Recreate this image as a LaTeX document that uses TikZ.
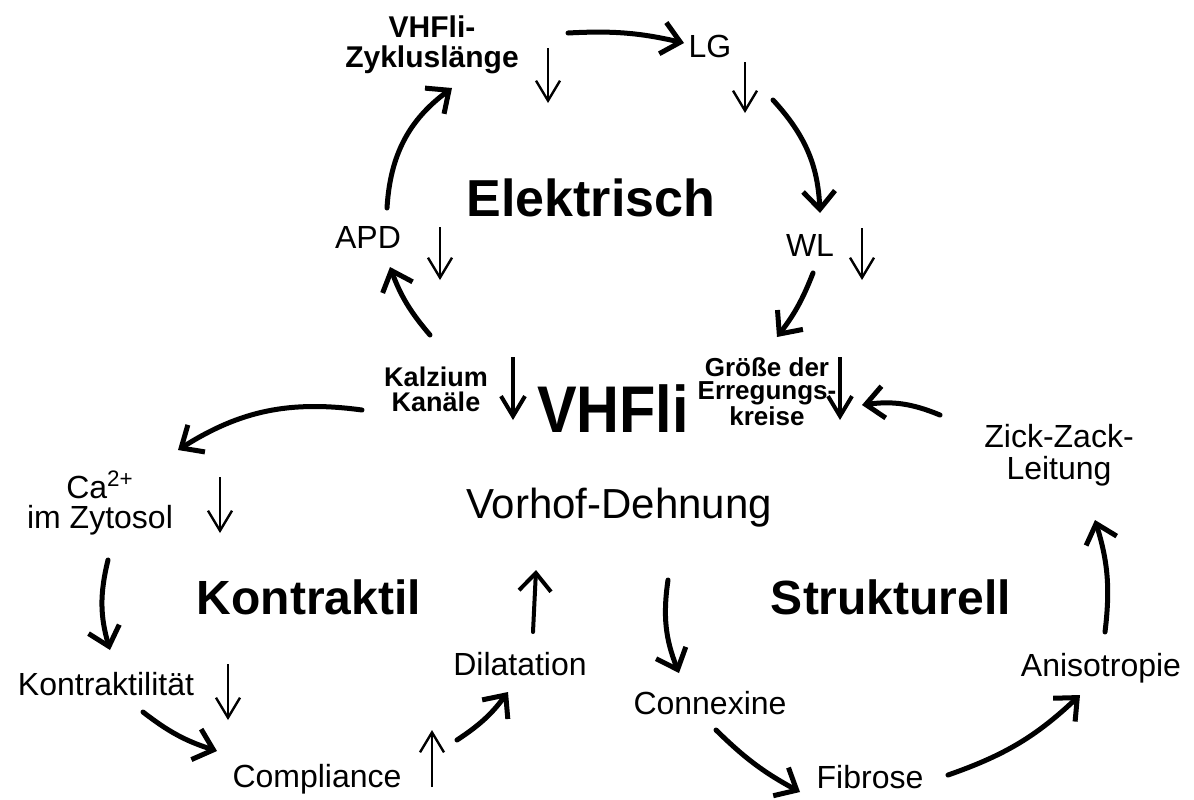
\documentclass[tikz,border=0pt]{standalone}
\usepackage{fontspec}
\setmainfont{Liberation Sans}
\usetikzlibrary{arrows.meta}
\tikzset{
  lbl/.style={font=\fontsize{16}{16}\selectfont,align=center},
  lblb/.style={font=\fontsize{15}{15}\selectfont\bfseries,align=center},
  lbls/.style={font=\fontsize{13.5}{12.5}\selectfont\bfseries,align=center},
  head/.style={font=\fontsize{24}{24}\selectfont\bfseries},
  flow/.style={line width=2.5pt,line cap=round,-{Straight Barb[length=9pt,width=16pt]}},
  trend/.style={line width=1.2pt,-{Straight Barb[length=10pt,width=12pt]}},
  trendb/.style={line width=2pt,-{Straight Barb[length=10pt,width=12pt]}},
}
\begin{document}
\begin{tikzpicture}[x=0.5pt,y=0.5pt]
\useasboundingbox (0,0) rectangle (1194,-799);
% labels
\node[lblb] (zyk) at (432,-45) {VHFli-\\Zykluslänge};
\node[lbl] (lg) at (710,-46) {LG};
\node[lbl] (apd) at (368,-237) {APD};
\node[lbl] (wl) at (810,-245) {WL};
\node[head,font=\fontsize{26}{26}\selectfont\bfseries] (elek) at (591,-198) {Elektrisch};
\node[lbls] (kalz) at (436,-389) {Kalzium\\Kanäle};
\node[font=\fontsize{33}{33}\selectfont\bfseries] (vhfli) at (613,-409) {\scalebox{0.9}[1]{VHFli}};
\node[lbls,font=\fontsize{13}{11.5}\selectfont\bfseries] (groe) at (767,-392) {Größe der\\Erregungs-\\kreise};
\node[lbl] (zick) at (1059,-455) {Zick-Zack-\\Leitung};
\node[lbl,font=\fontsize{16}{15}\selectfont] (ca) at (100,-503) {Ca\textsuperscript{2+}\\im Zytosol};
\node[font=\fontsize{21}{21}\selectfont] (vorhof) at (619,-508) {Vorhof-Dehnung};
\node[head] (kontraktil) at (309,-597) {Kontraktil};
\node[head] (strukt) at (891,-597) {Strukturell};
\node[lbl] (kontr) at (106,-684) {Kontraktilität};
\node[lbl] (dila) at (520,-664) {Dilatation};
\node[lbl] (conn) at (710,-703) {Connexine};
\node[lbl] (aniso) at (1101,-668) {Anisotropie};
\node[lbl] (compl) at (317,-779) {Compliance};
\node[lbl] (fibr) at (870,-777) {Fibrose};
% electric cycle
\draw[flow] ([shift={(136,12)}]zyk.center) to[bend left=8] ([shift={(-26,3)}]lg.center);
\draw[flow] ([shift={(63,-54)}]lg.center) to[bend left=20] ([shift={(10,32)}]wl.center);
\draw[flow] ([shift={(3,-28)}]wl.center) to[bend left=8] ([shift={(10,55)}]groe.center);
\draw[flow] ([shift={(-6,54)}]kalz.center) to[bend left=10] ([shift={(22,-30)}]apd.center);
\draw[flow] ([shift={(19,29)}]apd.center) to[bend left=25] ([shift={(20,-43)}]zyk.center);
% contractile cycle
\draw[flow] ([shift={(-74,-21)}]kalz.center) to[bend right=20] ([shift={(78,53)}]ca.center);
\draw[flow] ([shift={(8,-57)}]ca.center) to[bend right=15] ([shift={(4,34)}]kontr.center);
\draw[flow] ([shift={(37,-28)}]kontr.center) to[bend right=10] ([shift={(-100,28)}]compl.center);
\draw[flow] ([shift={(140,39)}]compl.center) to[bend right=10] ([shift={(-12,-28)}]dila.center);
\draw[flow,line width=2pt] ([shift={(13,32)}]dila.center) -- ([shift={(-83,-62)}]vorhof.center);
% structural cycle
\draw[flow] ([shift={(49,-72)}]vorhof.center) to[bend right=15] ([shift={(-31,30)}]conn.center);
\draw[flow] ([shift={(6,-27)}]conn.center) to[bend right=8] ([shift={(-70,-15)}]fibr.center);
\draw[flow] ([shift={(78,2)}]fibr.center) to[bend right=12] ([shift={(-21,-27)}]aniso.center);
\draw[flow] ([shift={(4,36)}]aniso.center) to[bend right=12] ([shift={(36,-65)}]zick.center);
\draw[flow] ([shift={(-119,40)}]zick.center) to[bend right=15] ([shift={(95,-13)}]groe.center);
% up and down
\draw[trend] ([shift={(116,-3)}]zyk.center) -- ++(0,-55);
\draw[trend] ([shift={(35,-16)}]lg.center) -- ++(0,-51);
\draw[trend] ([shift={(72,10)}]apd.center) -- ++(0,-53);
\draw[trend] ([shift={(52,17)}]wl.center) -- ++(0,-52);
\draw[trend] ([shift={(120,26)}]ca.center) -- ++(0,-56);
\draw[trend] ([shift={(122,20)}]kontr.center) -- ++(0,-56);
\draw[trend] ([shift={(115,-8)}]compl.center) -- ++(0,57);
\draw[trendb] ([shift={(77,32)}]kalz.center) -- ++(0,-63);
\draw[trendb] ([shift={(73,35)}]groe.center) -- ++(0,-63);
\end{tikzpicture}
\end{document}
